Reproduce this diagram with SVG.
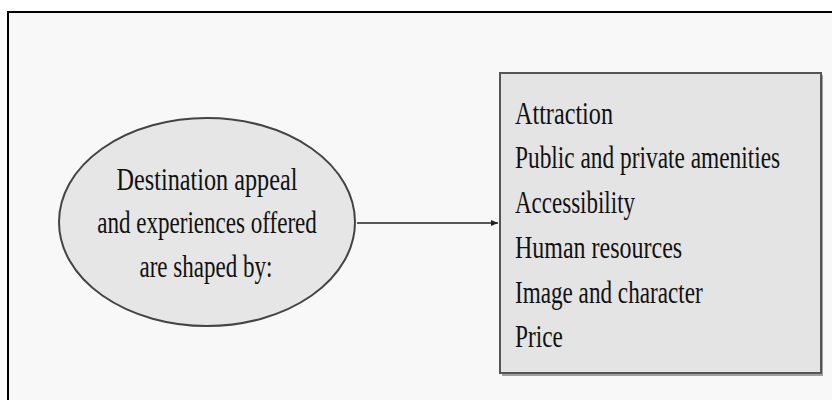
<svg xmlns="http://www.w3.org/2000/svg" width="832" height="400" viewBox="0 0 832 400">
<style>
.t{font-family:"Liberation Serif","DejaVu Serif",serif;font-size:31px;fill:#111}
.m{text-anchor:middle}
</style>
<defs>
<marker id="ah" markerWidth="8" markerHeight="8" refX="7" refY="4" orient="auto" markerUnits="userSpaceOnUse">
<path d="M0,1 L7,4 L0,7 Z" fill="#222"/>
</marker>
</defs>
<rect x="0" y="0" width="832" height="400" fill="#ffffff"/>
<rect x="8" y="12" width="840" height="400" fill="#f8f8f8" stroke="#000" stroke-width="2"/>
<g id="connectors">
<line x1="357" y1="223" x2="498" y2="223" stroke="#222" stroke-width="1.5" marker-end="url(#ah)"/>
</g>
<g id="node-appeal">
<ellipse cx="207" cy="222" rx="148" ry="104" fill="#e6e6e6" stroke="#444" stroke-width="2"/>
<g transform="scale(0.76,1)">
<text class="t m" x="272.4" y="190" textLength="238" lengthAdjust="spacingAndGlyphs">Destination appeal</text>
<text class="t m" x="272.4" y="233" textLength="289" lengthAdjust="spacingAndGlyphs">and experiences offered</text>
<text class="t m" x="271" y="277" textLength="175" lengthAdjust="spacingAndGlyphs">are shaped by:</text>
</g>
</g>
<g id="node-factors">
<rect x="502" y="75" width="321" height="301" fill="#666" opacity="0.6"/>
<rect x="500" y="73" width="321" height="300" fill="#e4e4e4" stroke="#555" stroke-width="2"/>
<g transform="scale(0.76,1)">
<text class="t" x="677.6" y="124" textLength="129" lengthAdjust="spacingAndGlyphs">Attraction</text>
<text class="t" x="677.6" y="168" textLength="349" lengthAdjust="spacingAndGlyphs">Public and private amenities</text>
<text class="t" x="677.6" y="213" textLength="158" lengthAdjust="spacingAndGlyphs">Accessibility</text>
<text class="t" x="677.6" y="258" textLength="220" lengthAdjust="spacingAndGlyphs">Human resources</text>
<text class="t" x="677.6" y="303" textLength="247" lengthAdjust="spacingAndGlyphs">Image and character</text>
<text class="t" x="677.6" y="347" textLength="63" lengthAdjust="spacingAndGlyphs">Price</text>
</g>
</g>
</svg>
